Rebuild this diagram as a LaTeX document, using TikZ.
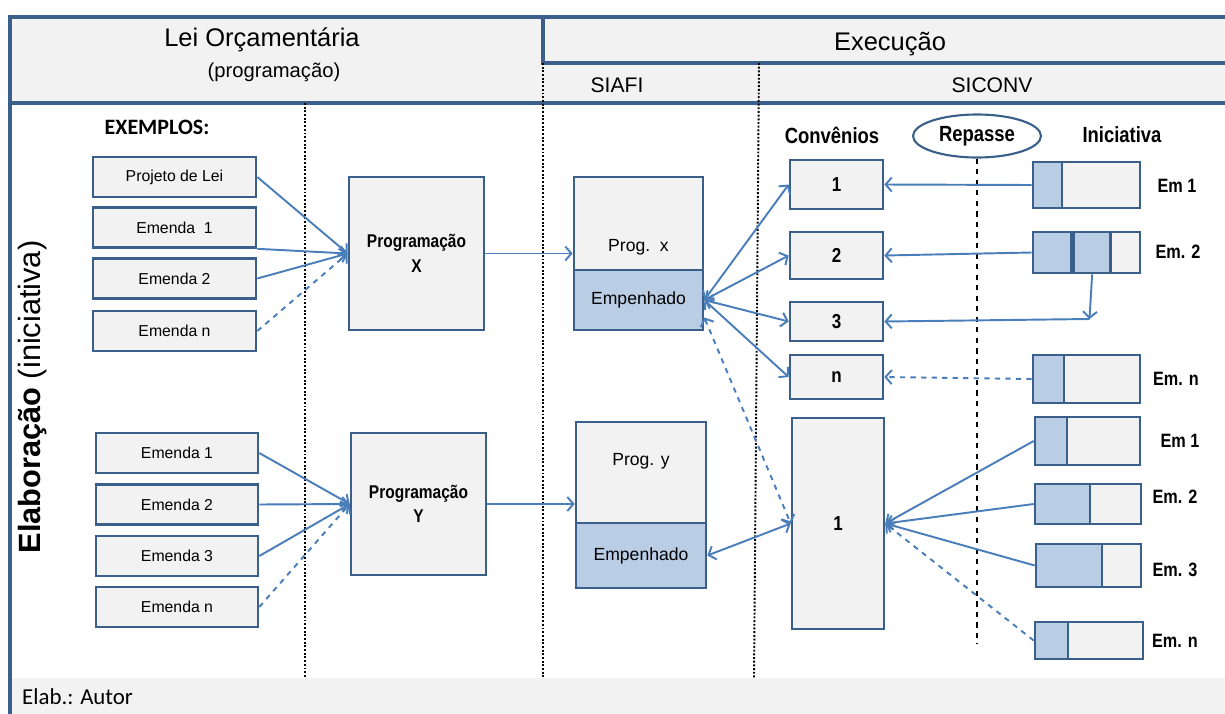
\documentclass[tikz,border=0pt]{standalone}
\usepackage{fontspec}
\setmainfont{Liberation Sans}
\newfontfamily\narrow[FakeStretch=0.84]{Liberation Sans}
\newfontfamily\calibri{Carlito}
\usetikzlibrary{arrows.meta,shapes.geometric}
\definecolor{frameblue}{HTML}{3A5F8B}
\definecolor{arrowblue}{HTML}{4A7EBB}
\definecolor{paleblue}{HTML}{B9CDE5}
\definecolor{panel}{HTML}{F2F2F2}

\begin{document}
\begin{tikzpicture}[x=0.02cm, y=-0.02cm,
  box/.style={draw=frameblue, line width=1.5pt, fill=panel, inner sep=0pt,
    font=\fontsize{9}{10}\selectfont},
  shade/.style={box, fill=paleblue},
  link/.style={arrowblue, line width=1.1pt, -{Straight Barb[length=3.5pt,width=8pt]}},
  twoway/.style={link, {Straight Barb[length=3.5pt,width=8pt]}-{Straight Barb[length=3.5pt,width=8pt]}},
  divider/.style={densely dotted, line width=1.1pt},
  hdr/.style={font=\fontsize{14.5}{17}\selectfont},
  sub/.style={font=\fontsize{12}{14}\selectfont},
  tag/.style={font=\narrow\bfseries\fontsize{11}{13}\selectfont},
  head/.style={font=\narrow\bfseries\fontsize{12.5}{14}\selectfont}]
  \useasboundingbox (0,0) rectangle (1225,714);
  % frame and header bands
  \fill[panel] (10,17) rectangle (1225,103);
  \fill[panel] (10,678) rectangle (1225,714);
  \draw[frameblue, line width=1.8pt] (10,714) -- (10,17) -- (1225,17);
  \draw[frameblue, line width=1.8pt] (10,103) -- (1225,103);
  \draw[frameblue, line width=1.8pt] (543,17) -- (543,63) -- (1225,63);
  \draw[divider] (305,103) -- (305,678);
  \draw[divider] (543,63) -- (543,678);
  \draw[divider] (759,63) -- (754,678);

  \node[hdr] (lei) at (262,40) {Lei Orçamentária};
  \node[font=\fontsize{11.5}{13}\selectfont] (prg) at (274,72) {(programação)};
  \node[hdr] (exe) at (890,44) {Execução};
  \node[sub] (siafi) at (617,85) {SIAFI};
  \node[sub] (siconv) at (992,85) {SICONV};
  \node[font=\calibri\bfseries\fontsize{12.5}{14}\selectfont] (ex) at (157,127) {EXEMPLOS:};
  \node[rotate=90, font=\fontsize{17.5}{20}\selectfont] (elab) at (33,397)
    {\bfseries Elaboração \mdseries(iniciativa)};
  \node[font=\calibri\fontsize{13}{15}\selectfont, anchor=west] (autor) at (16,697) {Elab.: Autor};

  % lei orcamentaria
  \foreach \id/\yy/\txt in {pl/177/Projeto de Lei, ea1/227.5/Emenda\ \ 1, ea2/278.5/Emenda 2, ean/331/Emenda n}
    \node[box, minimum width=3.26cm, minimum height=0.8cm] (\id) at (174.5,\yy) {\txt};
  \foreach \id/\yy/\txt in {eb1/453/Emenda 1, eb2/504.5/Emenda 2, eb3/556/Emenda 3, ebn/607/Emenda n}
    \node[box, minimum width=3.24cm, minimum height=0.8cm] (\id) at (177,\yy) {\txt};
  \node[box, minimum width=2.7cm, minimum height=3.06cm, align=center,
    font=\narrow\bfseries\fontsize{10.5}{14}\selectfont] (progX) at (416.5,253.5) {Programação\\X};
  \node[box, minimum width=2.7cm, minimum height=2.84cm, align=center,
    font=\narrow\bfseries\fontsize{10.5}{14}\selectfont] (progY) at (418.5,504) {Programação\\Y};

  \draw[link] (pl.east) -- (progX.west);
  \draw[link] (ea1.south east) -- (progX.west);
  \draw[link] (ea2.east) -- (progX.west);
  \draw[link, dashed] (ean.east) -- (progX.west);
  \draw[link] (eb1.east) -- (progY.west);
  \draw[link] (eb2.east) -- (progY.west);
  \draw[link] (eb3.east) -- (progY.west);
  \draw[link, dashed] (ebn.east) -- (progY.west);

  % SIAFI
  \node[box, minimum width=2.58cm, minimum height=1.86cm,
    label={[anchor=south, yshift=0.2cm, font=\fontsize{10}{12}\selectfont]south:Prog.\ \ x}]
    (progx) at (638.5,223.5) {};
  \node[shade, minimum width=2.58cm, minimum height=1.2cm, font=\fontsize{10}{12}\selectfont]
    (empx) at (638.5,300) {Empenhado};
  \node[box, minimum width=2.6cm, minimum height=2.02cm,
    label={[anchor=center, yshift=-0.82cm, font=\fontsize{10}{12}\selectfont]north:Prog. y}]
    (progy) at (641,472.5) {};
  \node[shade, minimum width=2.6cm, minimum height=1.3cm, font=\fontsize{10}{12}\selectfont]
    (empy) at (641,555.5) {Empenhado};
  \draw[link] (progX.east) -- (progX.east -| progx.west);
  \draw[link] (progY.east) -- (progY.east -| progy.west);

  % SICONV
  \node[head] (conv) at (832,135) {Convênios};
  \node[head] (inic) at (1122,135) {Iniciativa};
  \node[ellipse, draw=frameblue, line width=1.2pt, minimum width=2.56cm, minimum height=0.86cm,
    inner sep=0pt, head] (rep) at (977,136) {Repasse};
  \draw[dashed, line width=1.1pt] (rep.south) -- ++(0,485);

  \foreach \id/\yy/\hh/\txt in {c1/184.5/0.98/1, c2/255.5/0.94/2, c3/321.5/0.78/3, cn/377/0.88/n}
    \node[box, minimum width=1.86cm, minimum height=\hh cm,
      font=\narrow\bfseries\fontsize{11.5}{13}\selectfont] (\id) at (836.5,\yy) {\txt};
  \node[box, minimum width=1.84cm, minimum height=4.22cm,
    font=\narrow\bfseries\fontsize{11.5}{13}\selectfont] (cbig) at (838,523.5) {1};

  \foreach \id/\xx/\yy/\ww/\hh/\ss in {i1/1086.5/185/2.14/0.92/0.58, i2/1086.5/252.5/2.14/0.82/0.76,
      in/1086.5/379/2.14/0.96/0.62, j1/1087.5/441/2.1/0.96/0.64, j2/1088/504/2.12/0.8/1.1,
      j3/1088.5/565.5/2.1/0.86/1.32, jn/1089/640.5/2.16/0.74/0.66} {
    \node[box, minimum width=\ww cm, minimum height=\hh cm] (\id) at (\xx,\yy) {};
    \node[shade, minimum width=\ss cm, minimum height=\hh cm, anchor=west] (\id a) at (\id.west) {};
  }
  \node[shade, minimum width=0.74cm, minimum height=0.82cm, anchor=west] (i2b) at (i2a.east) {};

  \foreach \id/\xx/\yy/\txt in {l1/1177/186/Em 1, l2/1178/252/Em. 2, ln/1176/379/Em. n,
      m1/1180/441/Em 1, m2/1175/497/Em. 2, m3/1175/570/Em. 3, mn/1175/641/Em. n}
    \node[tag] (\id) at (\xx,\yy) {\txt};

  \foreach \c in {c1,c2,c3,cn}
    \draw[twoway] (empx.east) -- (\c.west);
  \draw[twoway] (empy.east) -- (cbig.west);
  \draw[twoway, dashed] ([yshift=-0.35cm]empx.east) -- (cbig.west);

  \coordinate (drop) at (1089.5,319);
  \draw[link] (i1a.west) -- (c1.east);
  \draw[link] (i2a.west) -- (c2.east);
  \draw[link] (i2b.south) -- (drop);
  \draw[link] (drop) -- (c3.east);
  \draw[link, dashed] (ina.west) -- (cn.east);
  \foreach \j in {j1a,j2a,j3a}
    \draw[link] (\j.west) -- (cbig.east);
  \draw[link, dashed] (jna.west) -- (cbig.east);
\end{tikzpicture}
\end{document}
